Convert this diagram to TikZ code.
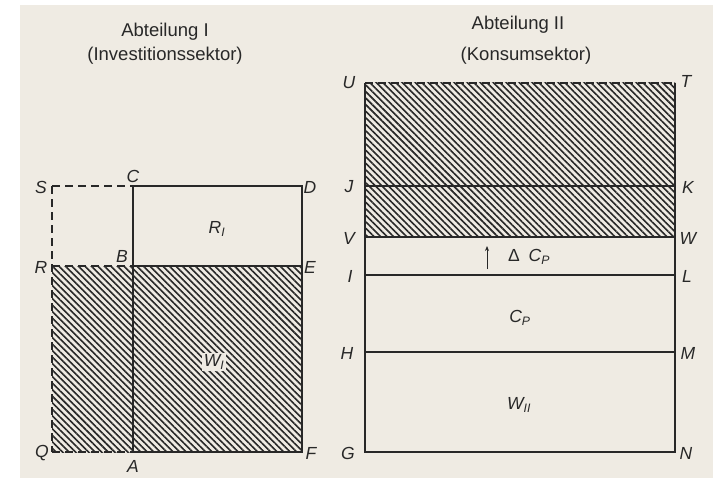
\documentclass[tikz,border=0pt]{standalone}
\usepackage{fontspec}
\setmainfont{Liberation Sans}
\usetikzlibrary{patterns.meta,arrows.meta}
\definecolor{paper}{RGB}{239,235,227}
\definecolor{ink}{RGB}{40,40,40}
\begin{document}
\begin{tikzpicture}[x=1pt,y=-1pt,
  solidline/.style={ink, line width=1.3pt},
  dashline/.style={ink, line width=1.3pt, dash pattern=on 8pt off 5pt},
  thinline/.style={ink, line width=1pt},
  lbl/.style={font=\fontsize{17.5}{17.5}\selectfont\itshape, text=ink, inner sep=0pt},
  ttl/.style={font=\fontsize{18.5}{20}\selectfont, text=ink, inner sep=0pt, anchor=base},
  hatch/.style={pattern={Lines[angle=-45,distance=4.6pt,line width=1.6pt]}, pattern color=ink}]
\useasboundingbox (0,0) rectangle (713,487);
\fill[white] (0,0) rectangle (713,487);
\fill[paper] (20,5) rectangle (713,478);

% ---- Abteilung I ----
\coordinate (S) at (52,186);
\coordinate (C) at (133,186);
\coordinate (D) at (302,186);
\coordinate (R) at (52,266);
\coordinate (B) at (133,266);
\coordinate (E) at (302,266);
\coordinate (Q) at (52,452);
\coordinate (A) at (133,452);
\coordinate (F) at (302,452);

\fill[hatch] (R) rectangle (F);
\draw[dashline] (S) -- (C);
\draw[dashline] (S) -- (Q);
\draw[dashline] (R) -- (B);
\draw[dashline] (Q) -- (A);
\draw[solidline] (C) -- (D) -- (F) -- (A) -- cycle;
\draw[solidline] (B) -- (E);

\node[ttl] (t1a) at (165,37) {Abteilung I};
\node[ttl] (t1b) at (165,61) {(Investitionssektor)};

\node[lbl] (lS) at (41,187) {S};
\node[lbl] (lC) at (133,176) {C};
\node[lbl] (lD) at (310,187) {D};
\node[lbl] (lR) at (41,267) {R};
\node[lbl] (lB) at (122,256) {B};
\node[lbl] (lE) at (310,267) {E};
\node[lbl] (lQ) at (42,453) {Q};
\node[lbl] (lA) at (133,466) {A};
\node[lbl] (lF) at (311,453) {F};
\node[lbl] (RI) at (217,229) {R\textsubscript{I}};
\node[lbl, fill=paper, inner sep=2pt] (WI) at (214,362) {W\textsubscript{I}};

% ---- Abteilung II ----
\coordinate (U) at (365,83);
\coordinate (T) at (675,83);
\coordinate (J) at (365,186);
\coordinate (K) at (675,186);
\coordinate (V) at (365,237);
\coordinate (W) at (675,237);
\coordinate (I) at (365,275);
\coordinate (L) at (675,275);
\coordinate (H) at (365,352);
\coordinate (M) at (675,352);
\coordinate (G) at (365,452);
\coordinate (N) at (675,452);

\fill[hatch] (U) rectangle (W);
\draw[dashline] (U) -- (T);
\draw[solidline] (U) -- (G) -- (N) -- (T);
\draw[solidline] (J) -- (K);
\draw[solidline] (V) -- (W);
\draw[solidline] (I) -- (L);
\draw[solidline] (H) -- (M);

\node[ttl] (t2a) at (518,30) {Abteilung II};
\node[ttl] (t2b) at (526,61) {(Konsumsektor)};

\node[lbl] (lU) at (349,83) {U};
\node[lbl] (lT) at (686,81) {T};
\node[lbl] (lJ) at (349,187) {J};
\node[lbl] (lK) at (688,187) {K};
\node[lbl] (lV) at (349,238) {V};
\node[lbl] (lW) at (688,238) {W};
\node[lbl] (lI) at (350,276) {I};
\node[lbl] (lL) at (687,276) {L};
\node[lbl] (lH) at (347,353) {H};
\node[lbl] (lM) at (688,353) {M};
\node[lbl] (lG) at (348,453) {G};
\node[lbl] (lN) at (686,453) {N};

\coordinate (ar0) at (487,269);
\coordinate (ar1) at (487,246);
\draw[thinline, -{Stealth[length=5pt,width=4pt]}] (ar0) -- (ar1);
\node[lbl] (dC) at (529,257) {{\upshape Δ}\hspace{9pt}C\textsubscript{P}};
\node[lbl] (CP) at (520,318) {C\textsubscript{P}};
\node[lbl] (WII) at (519,405) {W\textsubscript{II}};
\end{tikzpicture}
\end{document}
